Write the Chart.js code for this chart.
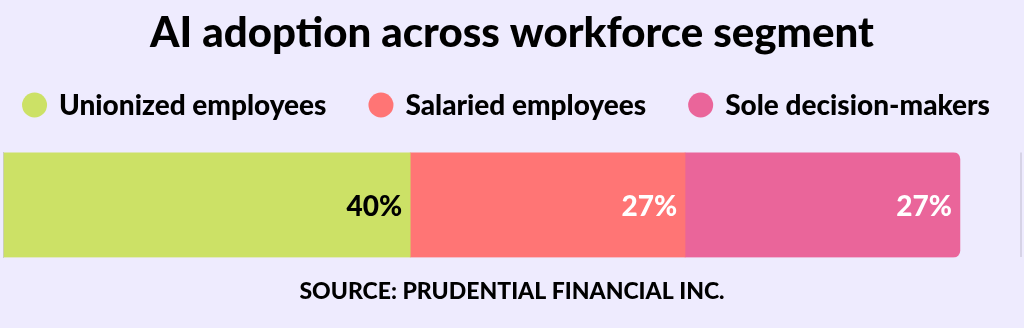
<!DOCTYPE html>
<html>
<head>
<meta charset="utf-8">
<script src="https://cdn.jsdelivr.net/npm/chart.js@4.4.1/dist/chart.umd.min.js"></script>
<style>
html,body{margin:0;padding:0;background:#EEEBFE;}
#wrap{width:1024px;height:328px;}
</style>
</head>
<body>
<div id="wrap"><canvas id="c" width="1024" height="328"></canvas></div>
<script>
const categories = ["AI adoption"];
const seriesNames = ["Unionized employees", "Salaried employees", "Sole decision-makers"];
const unionized = [40];
const salaried = [27];
const soleDecision = [27];
const seriesColors = ["#CCE166", "#FF7575", "#EA659A"];
const labelColors = ["#000000", "#FFFFFF", "#FFFFFF"];
const titleText = "AI adoption across workforce segment";
const sourceText = "SOURCE: PRUDENTIAL FINANCIAL INC.";

const FONT = "Lato, 'Open Sans', sans-serif";

const bgPlugin = {
  id: 'bg',
  beforeDraw(chart) {
    const c = chart.ctx;
    c.save();
    c.fillStyle = '#EEEBFE';
    c.fillRect(0, 0, chart.width, chart.height);
    c.restore();
  }
};

// Legend drawn from the chart's own dataset labels/colours (single row, like the reference)
const legendPlugin = {
  id: 'rowLegend',
  afterDraw(chart) {
    const c = chart.ctx;
    c.save();
    c.font = "900 28px " + FONT;
    c.textBaseline = 'middle';
    c.textAlign = 'left';
    const items = chart.data.datasets.map(ds => ({ text: ds.label, color: ds.backgroundColor, w: c.measureText(ds.label).width }));
    const diam = 25, gapText = 12, gapItem = 42;
    const total = items.reduce((s, it) => s + diam + gapText + it.w, 0) + gapItem * (items.length - 1);
    let x = (chart.width - total) / 2 - 6;
    const y = 105;
    items.forEach(it => {
      c.fillStyle = it.color;
      c.beginPath();
      c.arc(x + diam / 2, y, diam / 2, 0, Math.PI * 2);
      c.fill();
      c.fillStyle = '#000';
      c.fillText(it.text, x + diam + gapText, y + 1);
      x += diam + gapText + it.w + gapItem;
    });
    c.restore();
  }
};

const labelPlugin = {
  id: 'valueLabels',
  afterDatasetsDraw(chart) {
    const c = chart.ctx;
    c.save();
    c.font = "900 28px " + FONT;
    c.textAlign = 'right';
    c.textBaseline = 'middle';
    chart.data.datasets.forEach((ds, i) => {
      const meta = chart.getDatasetMeta(i);
      meta.data.forEach((bar, j) => {
        c.fillStyle = labelColors[i];
        c.fillText(ds.data[j] + '%', bar.x - 8, bar.y + 2);
      });
    });
    c.restore();
  }
};

const seriesData = [unionized, salaried, soleDecision];

new Chart(document.getElementById('c'), {
  type: 'bar',
  data: {
    labels: categories,
    datasets: seriesData.map((d, i) => ({
      label: seriesNames[i],
      data: d,
      backgroundColor: seriesColors[i],
      borderWidth: 0,
      borderRadius: i === 2 ? {topLeft: 0, bottomLeft: 0, topRight: 7, bottomRight: 7} : 0,
      borderSkipped: i === 2 ? false : 'start',
      categoryPercentage: 1,
      barPercentage: 1
    }))
  },
  options: {
    indexAxis: 'y',
    responsive: false,
    animation: false,
    devicePixelRatio: 1,
    layout: { padding: { left: 3, right: 3, top: 0, bottom: 0 } },
    scales: {
      x: {
        stacked: true,
        min: 0, max: 100,
        ticks: { display: false },
        border: { display: false },
        grid: {
          drawTicks: false,
          color: (ctx) => (ctx.tick && ctx.tick.value === 100) ? '#D6D3E6' : 'rgba(0,0,0,0)',
          lineWidth: 2
        }
      },
      y: {
        stacked: true,
        ticks: { display: false },
        border: { display: true, color: '#C9C6DA', width: 1 },
        grid: { display: false, drawTicks: false }
      }
    },
    plugins: {
      title: {
        display: true,
        text: titleText,
        color: '#000',
        font: { family: FONT, size: 42, weight: '900' },
        padding: { top: 8, bottom: 94 }
      },
      subtitle: {
        display: true,
        position: 'bottom',
        text: sourceText,
        color: '#000',
        font: { family: FONT, size: 23, weight: '900' },
        padding: { top: 20, bottom: 23 }
      },
      legend: { display: false },
      tooltip: { enabled: false }
    }
  },
  plugins: [bgPlugin, labelPlugin, legendPlugin]
});
</script>
</body>
</html>
